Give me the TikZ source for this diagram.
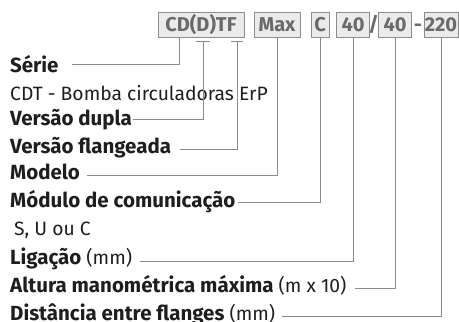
\documentclass[tikz,border=0pt]{standalone}
\usepackage{fontspec}
\setmainfont{Fira Sans}
\definecolor{boxfill}{HTML}{EBEBEB}
\definecolor{boxline}{HTML}{8C8C8C}
\definecolor{boxtext}{HTML}{6A6A6A}
\definecolor{lbl}{HTML}{1E1E1E}
\definecolor{conn}{HTML}{8A8A8A}
\newcommand\boldlbl[1]{{\fontsize{20.5}{20}\selectfont\bfseries #1}}
\begin{document}
\begin{tikzpicture}[x=1pt,y=-1pt,
  codebox/.style={draw=boxline,fill=boxfill,line width=0.8pt,inner sep=0pt,
    font=\fontsize{20}{20}\selectfont\bfseries,text=boxtext},
  lbltext/.style={anchor=base west,inner sep=0pt,font=\fontsize{19.3}{20}\selectfont,text=lbl},
  conn/.style={draw=conn,line width=0.8pt},
  sep/.style={anchor=base,inner sep=0pt,font=\fontsize{20}{20}\selectfont\bfseries,text=boxtext}]
\useasboundingbox (0,0) rectangle (459,322);
% code boxes
\node[codebox,minimum width=86pt,minimum height=25pt] (b1) at (201,24.5) {CD(D)TF};
\node[codebox,minimum width=46pt,minimum height=25pt] (b2) at (277,24.5) {Max};
\node[codebox,minimum width=18pt,minimum height=25pt] (b3) at (320,24.5) {C};
\node[codebox,minimum width=33pt,minimum height=25pt] (b4) at (353,24.5) {40};
\node[codebox,minimum width=33pt,minimum height=25pt] (b5) at (395,24.5) {40};
\node[codebox,minimum width=34pt,minimum height=25pt] (b6) at (441,24.5) {220};
\node[sep] (sl) at (373.5,31.5) {/};
\node[sep] (da) at (418,31.5) {-};
% labels
\node[lbltext] (l1) at (10,72) {\boldlbl{Série}};
\node[lbltext] (l1b) at (10,100) {CDT - Bomba circuladoras ErP};
\node[lbltext] (l2) at (10,125.5) {\boldlbl{Versão dupla}};
\node[lbltext] (l3) at (10,153.5) {\boldlbl{Versão flangeada}};
\node[lbltext] (l4) at (10,179.5) {\boldlbl{Modelo}};
\node[lbltext] (l5) at (10,207.5) {\boldlbl{Módulo de comunicação}};
\node[lbltext] (l5b) at (14,235) {S, U ou C};
\node[lbltext] (l6) at (10,264.5) {\boldlbl{Ligação} (mm)};
\node[lbltext] (l7) at (10,292.5) {\boldlbl{Altura manométrica máxima} (m x 10)};
\node[lbltext] (l8) at (10,320) {\boldlbl{Distância entre flanges} (mm)};
% connector ends
\coordinate (s1) at (72,64);
\coordinate (s2) at (133,119);
\coordinate (s3) at (180,149);
\coordinate (s4) at (87,175);
\coordinate (s5) at (238,202);
\coordinate (s6) at (140,261);
\coordinate (s7) at (355,288);
\coordinate (s8) at (282,316);
\coordinate (t1) at (179,37);
\coordinate (t2) at (203,41);
\coordinate (t3) at (237,41);
% T bars
\draw[conn] (196,41) -- (210,41);
\draw[conn] (231,41) -- (243,41);
% connectors
\draw[conn] (s1) -| (t1);
\draw[conn] (s2) -| (t2);
\draw[conn] (s3) -| (t3);
\draw[conn] (s4) -| (b2.south);
\draw[conn] (s5) -| (b3.south);
\draw[conn] (s6) -| (b4.south);
\draw[conn] (s7) -| (b5.south);
\draw[conn] (s8) -| (b6.south);
\end{tikzpicture}
\end{document}
